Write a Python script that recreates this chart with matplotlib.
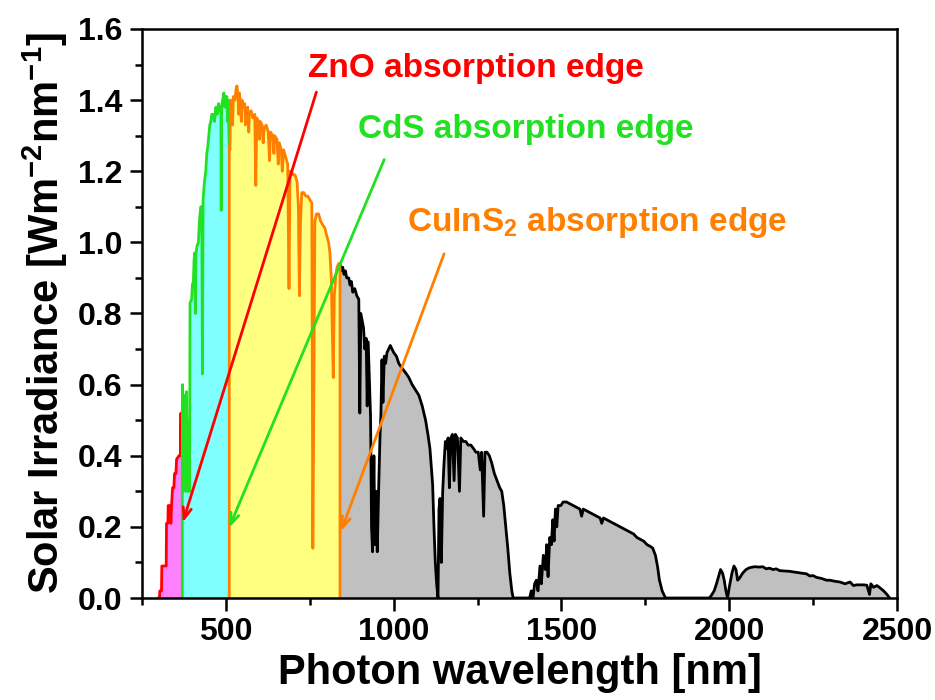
import matplotlib.pyplot as plt
from matplotlib.ticker import MultipleLocator

plt.rcParams['font.family'] = ['Liberation Sans', 'DejaVu Sans']
plt.rcParams['font.weight'] = 'bold'
plt.rcParams['mathtext.fontset'] = 'custom'
plt.rcParams['mathtext.rm'] = 'Liberation Sans:bold'
plt.rcParams['mathtext.bf'] = 'Liberation Sans:bold'
plt.rcParams['mathtext.default'] = 'bf'

# 1. spectrum, split at the absorption edges
# below ZnO edge (pink)
zno_wl = [300, 302, 303, 308, 309, 322, 323, 327, 328, 334, 336, 338, 341, 345,
          347, 351, 353, 360, 364, 366, 367, 370]
zno_irr = [0.0, 0.0, 0.02, 0.02, 0.09, 0.09, 0.21, 0.21, 0.26, 0.26, 0.21, 0.26, 0.31, 0.31,
           0.35, 0.35, 0.39, 0.40, 0.40, 0.52, 0.40, 0.40]

# ZnO edge .. CdS edge (cyan)
cds_wl = [370, 371, 373, 376, 378, 380, 383, 385, 388, 390, 392, 393, 398, 400, 403,
          405, 407, 409, 411, 414, 418, 421, 425, 428, 430, 432, 436, 440, 443, 446,
          449, 452, 455, 458, 462, 466, 470, 474, 478, 482, 485, 486, 487, 490, 494,
          497, 500, 503, 505, 507, 509, 510]
cds_irr = [0.40, 0.60, 0.30, 0.57, 0.55, 0.30, 0.58, 0.30, 0.50, 0.30, 0.30, 0.83, 0.84, 0.88, 0.89,
           0.95, 0.97, 0.80, 0.97, 0.99, 1.00, 1.06, 1.10, 1.10, 0.63, 1.12, 1.17, 1.20, 1.25, 1.27,
           1.30, 1.33, 1.34, 1.36, 1.36, 1.34, 1.38, 1.36, 1.39, 1.37, 1.38, 1.09, 1.38, 1.40, 1.42,
           1.38, 1.41, 1.41, 1.34, 1.40, 1.30, 1.27]

# CdS edge .. CuInS2 edge (yellow)
cis_wl = [510, 512, 514, 518, 520, 522, 527, 530, 533, 536, 538, 540, 544, 546, 548,
          552, 556, 558, 560, 565, 568, 570, 575, 580, 586, 589, 592, 597, 600, 602,
          608, 611, 614, 620, 626, 630, 633, 640, 643, 645, 652, 656, 659, 665, 668,
          672, 678, 684, 688, 691, 696, 700, 706, 712, 716, 719, 722, 726, 732, 738,
          744, 750, 756, 759, 762, 765, 770, 776, 782, 788, 795, 800, 806, 810, 814,
          817, 820, 823, 827, 831, 836, 840]
cis_irr = [1.27, 1.26, 1.40, 1.38, 1.33, 1.41, 1.40, 1.43, 1.44, 1.41, 1.36, 1.42, 1.39, 1.34, 1.40,
           1.38, 1.39, 1.33, 1.37, 1.38, 1.31, 1.36, 1.37, 1.35, 1.36, 1.16, 1.35, 1.34, 1.29, 1.34,
           1.33, 1.28, 1.32, 1.33, 1.31, 1.23, 1.31, 1.30, 1.25, 1.30, 1.29, 1.22, 1.28, 1.26, 1.20,
           1.26, 1.24, 1.22, 0.87, 1.20, 1.20, 1.19, 1.19, 1.17, 1.10, 0.85, 1.05, 1.14, 1.14, 1.13,
           1.13, 1.12, 1.11, 0.14, 0.55, 1.06, 1.08, 1.08, 1.06, 1.05, 1.04, 1.02, 1.00, 0.97, 0.90,
           0.75, 0.62, 0.85, 0.90, 0.93, 0.94, 0.94]

# beyond CuInS2 edge (grey)
rest_wl = [840, 844, 848, 852, 856, 860, 866, 870, 874, 878, 884, 890, 896, 899, 902,
           906, 910, 914, 918, 921, 924, 928, 931, 934, 937, 941, 944, 948, 951, 955,
           959, 962, 965, 968, 972, 976, 980, 985, 990, 995, 1000, 1008, 1015, 1022, 1030,
           1038, 1045, 1055, 1065, 1075, 1085, 1095, 1102, 1108, 1112, 1116, 1120, 1124, 1128, 1132,
           1135, 1138, 1142, 1146, 1150, 1154, 1158, 1162, 1166, 1170, 1175, 1180, 1184, 1190, 1196,
           1200, 1208, 1215, 1222, 1230, 1238, 1245, 1252, 1258, 1262, 1268, 1272, 1278, 1285, 1292,
           1300, 1308, 1316, 1322, 1328, 1334, 1340, 1346, 1352, 1356, 1405, 1410, 1415, 1420, 1425,
           1430, 1436, 1440, 1446, 1452, 1456, 1460, 1465, 1470, 1474, 1478, 1482, 1486, 1490, 1498,
           1505, 1515, 1525, 1535, 1545, 1555, 1560, 1565, 1575, 1585, 1595, 1605, 1615, 1620, 1625,
           1635, 1645, 1655, 1665, 1675, 1685, 1695, 1705, 1715, 1725, 1735, 1745, 1755, 1765, 1772,
           1780, 1786, 1792, 1800, 1810, 1940, 1945, 1955, 1962, 1968, 1974, 1980, 1985, 1990, 1995,
           2000, 2008, 2014, 2020, 2025, 2030, 2040, 2050, 2060, 2075, 2090, 2100, 2110, 2120, 2130,
           2140, 2150, 2165, 2180, 2200, 2215, 2230, 2240, 2250, 2260, 2275, 2290, 2300, 2315, 2330,
           2345, 2360, 2370, 2380, 2400, 2410, 2418, 2422, 2430, 2440, 2450, 2460, 2470, 2478]
rest_irr = [0.94, 0.92, 0.93, 0.91, 0.92, 0.90, 0.90, 0.88, 0.89, 0.86, 0.87, 0.85, 0.84, 0.52, 0.80,
            0.78, 0.76, 0.70, 0.73, 0.54, 0.72, 0.60, 0.51, 0.20, 0.13, 0.40, 0.15, 0.30, 0.13, 0.30,
            0.45, 0.52, 0.67, 0.55, 0.68, 0.66, 0.69, 0.70, 0.71, 0.70, 0.69, 0.68, 0.66, 0.65, 0.64,
            0.63, 0.62, 0.60, 0.585, 0.57, 0.54, 0.50, 0.46, 0.42, 0.37, 0.32, 0.20, 0.10, 0.04, 0.0,
            0.25, 0.28, 0.10, 0.30, 0.38, 0.44, 0.42, 0.45, 0.31, 0.45, 0.46, 0.33, 0.46, 0.45, 0.30,
            0.45, 0.44, 0.44, 0.43, 0.43, 0.42, 0.41, 0.41, 0.36, 0.41, 0.23, 0.41, 0.41, 0.40, 0.38,
            0.35, 0.33, 0.31, 0.30, 0.26, 0.20, 0.14, 0.07, 0.02, 0.0, 0.0, 0.02, 0.0, 0.04, 0.05,
            0.02, 0.09, 0.04, 0.12, 0.08, 0.15, 0.06, 0.17, 0.15, 0.22, 0.16, 0.25, 0.20, 0.26, 0.26,
            0.27, 0.27, 0.265, 0.26, 0.255, 0.25, 0.23, 0.25, 0.245, 0.24, 0.235, 0.23, 0.225, 0.21, 0.225,
            0.22, 0.215, 0.21, 0.205, 0.20, 0.195, 0.19, 0.185, 0.18, 0.17, 0.165, 0.16, 0.15, 0.145, 0.14,
            0.12, 0.09, 0.05, 0.02, 0.0, 0.0, 0.005, 0.02, 0.04, 0.06, 0.08, 0.07, 0.05, 0.02, 0.0,
            0.03, 0.07, 0.09, 0.08, 0.05, 0.055, 0.07, 0.08, 0.085, 0.088, 0.087, 0.088, 0.082, 0.084, 0.08,
            0.082, 0.077, 0.076, 0.075, 0.072, 0.07, 0.068, 0.062, 0.063, 0.058, 0.055, 0.05, 0.05, 0.047, 0.045,
            0.04, 0.045, 0.035, 0.037, 0.037, 0.036, 0.01, 0.04, 0.03, 0.035, 0.028, 0.02, 0.01, 0.0]

# 2. labels and arrows (tail -> head)
labels = ['ZnO absorption edge', 'CdS absorption edge', r'CuInS$_2$ absorption edge']
label_xy = [(745, 1.49), (895, 1.316), (1040, 1.057)]
arrow_tail = [(772, 1.43), (975, 1.24), (1153, 0.975)]
arrow_head = [(369, 0.205), (506, 0.19), (840, 0.18)]
edge_colors = ['#ff0000', '#22e022', '#ff8000']

# 3. plot
fig = plt.figure(figsize=(9.35, 7), dpi=100)
ax = fig.add_axes([0.1519, 0.1457, 0.8075, 0.8129])

ax.fill_between(zno_wl, zno_irr, color='#ff80ff', lw=0)
ax.fill_between(cds_wl, cds_irr, color='#80ffff', lw=0)
ax.fill_between(cis_wl, cis_irr, color='#ffff80', lw=0)
ax.fill_between(rest_wl, rest_irr, color='#c0c0c0', lw=0)

ax.plot(rest_wl, rest_irr, color='black', lw=2)
ax.plot(zno_wl, zno_irr, color='#ff0000', lw=2)
ax.plot([cds_wl[0]] + cds_wl, [0] + cds_irr, color='#22e022', lw=2)
ax.plot([cis_wl[0]] + cis_wl + [cis_wl[-1]], [0] + cis_irr + [0], color='#ff8000', lw=2)

for txt, (tx, ty), tail, head, c in zip(labels, label_xy, arrow_tail, arrow_head, edge_colors):
    ax.text(tx, ty, txt, color=c, fontsize=24, fontweight='bold', va='center', ha='left')
    ax.annotate('', xy=head, xytext=tail,
                arrowprops=dict(arrowstyle='->,head_length=0.8,head_width=0.3', color=c, lw=2))

ax.set_xlim(250, 2500)
ax.set_ylim(0, 1.6)
ax.xaxis.set_major_locator(MultipleLocator(500))
ax.xaxis.set_minor_locator(MultipleLocator(250))
ax.yaxis.set_major_locator(MultipleLocator(0.2))
ax.yaxis.set_minor_locator(MultipleLocator(0.1))
ax.yaxis.set_major_formatter(plt.FormatStrFormatter('%.1f'))
ax.tick_params(which='major', direction='out', length=9, width=1.8, labelsize=23, pad=5)
ax.tick_params(which='minor', direction='out', length=5, width=1.8)
for s in ax.spines.values():
    s.set_linewidth(1.8)

ax.set_xlabel('Photon wavelength [nm]', fontsize=30, fontweight='bold', labelpad=4)
ax.set_ylabel(r'Solar Irradiance [Wm$^{-2}$nm$^{-1}$]', fontsize=30, fontweight='bold', labelpad=6)

plt.savefig('out.png', dpi=100)
